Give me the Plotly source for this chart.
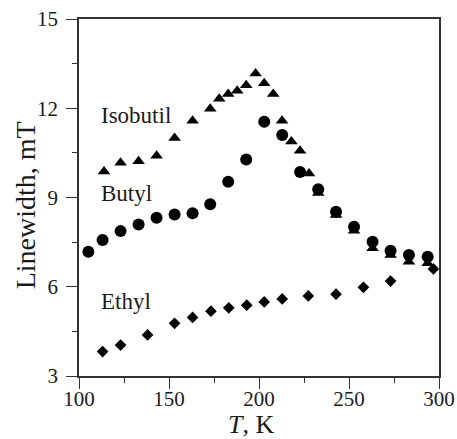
import plotly.graph_objects as go

# Isobutil (triangles)
iso_T = [113.9, 123.1, 133.1, 143.1, 153.1, 163.1, 172.9, 177.9, 182.9, 187.9, 192.9, 198.1,
         202.9, 207.9, 212.8, 218.0, 222.8, 227.8, 232.9, 242.8, 252.8, 263.1, 273.1, 283.3, 293.7]
iso_W = [9.87, 10.17, 10.22, 10.40, 11.0, 11.58, 11.98, 12.32, 12.48, 12.59, 12.77, 13.17,
         12.84, 12.48, 11.58, 10.88, 10.57, 9.81, 9.15, 8.41, 7.88, 7.29, 7.07, 6.84, 6.79]

# Butyl (circles)
but_T = [105.2, 113.1, 123.1, 133.1, 143.1, 153.1, 163.1, 172.9, 182.9, 192.9, 202.9, 212.9,
         222.8, 232.9, 242.8, 252.8, 263.1, 273.1, 283.3, 293.7]
but_W = [7.18, 7.57, 7.87, 8.09, 8.32, 8.43, 8.47, 8.77, 9.53, 10.28, 11.55, 11.10,
         9.86, 9.28, 8.52, 8.02, 7.51, 7.21, 7.07, 7.01]

# Ethyl (diamonds)
eth_T = [113.1, 123.1, 138.1, 153.1, 163.1, 173.3, 183.2, 193.2, 202.9, 212.9, 227.4, 242.8,
         258.0, 273.1, 296.9]
eth_W = [3.82, 4.04, 4.38, 4.77, 4.97, 5.18, 5.29, 5.38, 5.49, 5.59, 5.69, 5.75,
         5.98, 6.19, 6.60]

labels = ["Isobutil", "Butyl", "Ethyl"]
label_T = [111.0, 111.0, 111.0]
label_W = [11.77, 9.15, 5.49]

FONT = "Liberation Serif"
TXT = "#1a1a1a"

fig = go.Figure()
fig.add_trace(go.Scatter(x=iso_T, y=iso_W, mode="markers",
                         marker=dict(symbol="triangle-up", size=11, color="black")))
fig.add_trace(go.Scatter(x=eth_T, y=eth_W, mode="markers",
                         marker=dict(symbol="diamond", size=9, color="black")))
fig.add_trace(go.Scatter(x=but_T, y=but_W, mode="markers",
                         marker=dict(symbol="circle", size=12, color="black")))

for t, xv, yv in zip(labels, label_T, label_W):
    fig.add_annotation(x=xv, y=yv, text=t, showarrow=False, xanchor="left", yanchor="middle",
                       font=dict(family=FONT, size=23, color=TXT))

# axis titles as paper-positioned annotations (paper = plot area domain)
fig.add_annotation(x=0.478, y=-0.135, xref="paper", yref="paper", text="<i>T</i>, K",
                   showarrow=False, xanchor="center", yanchor="middle",
                   font=dict(family=FONT, size=26, color=TXT))
fig.add_annotation(x=-0.15, y=0.478, xref="paper", yref="paper", text="Linewidth, mT",
                   showarrow=False, xanchor="center", yanchor="middle", textangle=-90,
                   font=dict(family=FONT, size=28, color=TXT))

axis_common = dict(showgrid=False, zeroline=False, showline=True, linecolor="#333",
                   linewidth=1.5, mirror=True, ticks="outside", ticklen=11, tickwidth=1.3,
                   tickcolor="#333", automargin=False,
                   tickfont=dict(family=FONT, size=21, color=TXT))

fig.update_xaxes(range=[100, 300], tickvals=[100, 150, 200, 250, 300], ticklabelstandoff=-8,
                 minor=dict(dtick=25, tick0=100, ticks="outside", ticklen=5, tickcolor="#333"),
                 **axis_common)
fig.update_yaxes(range=[3, 15], tickvals=[3, 6, 9, 12, 15], ticklabelstandoff=4,
                 minor=dict(dtick=1.5, tick0=3, ticks="outside", ticklen=5, tickcolor="#333"),
                 **axis_common)

fig.update_layout(width=457, height=439, showlegend=False,
                  margin=dict(l=79, r=18, t=19, b=63),
                  paper_bgcolor="white", plot_bgcolor="white")

fig.write_html("out.html")
